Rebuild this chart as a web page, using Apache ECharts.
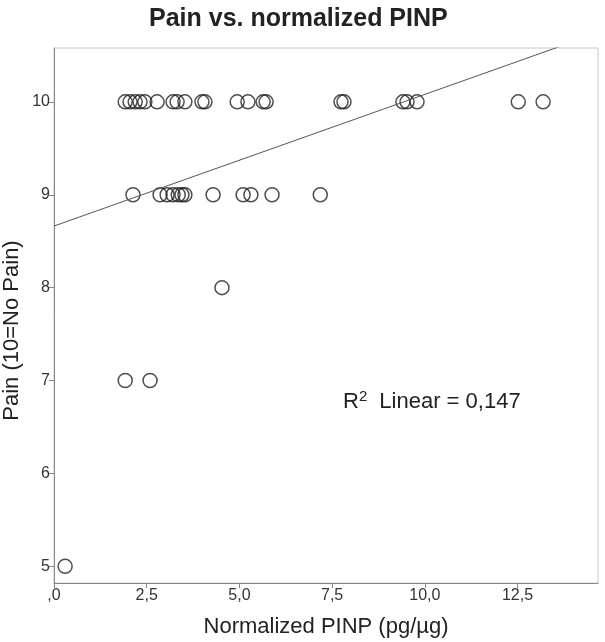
<!DOCTYPE html>
<html>
<head>
<meta charset="utf-8">
<script src="https://cdn.jsdelivr.net/npm/echarts@6/dist/echarts.min.js"></script>
<style>
  html, body { margin: 0; padding: 0; background: #fff; }
  #main { width: 605px; height: 642px; }
</style>
</head>
<body>
<div id="main"></div>
<script>
// normalized PINP (pg/µg) and the pain score of each patient
var pinpValues = [
  1.92, 2.05, 2.19, 2.32, 2.45, 2.78, 3.21, 3.32, 3.53, 3.99, 4.07,
  4.94, 5.23, 5.64, 5.72, 7.74, 7.82, 9.41, 9.52, 9.79, 12.52, 13.19,
  2.13, 2.86, 3.05, 3.21, 3.35, 3.45, 3.53, 4.29, 5.10, 5.31, 5.88, 7.18,
  4.53,
  1.92, 2.59,
  0.30
];
var painValues = [
  10, 10, 10, 10, 10, 10, 10, 10, 10, 10, 10,
  10, 10, 10, 10, 10, 10, 10, 10, 10, 10, 10,
  9, 9, 9, 9, 9, 9, 9, 9, 9, 9, 9, 9,
  8,
  7, 7,
  5
];

var xTicks = [0, 2.5, 5, 7.5, 10, 12.5];
var xTickLabels = [',0', '2,5', '5,0', '7,5', '10,0', '12,5'];
var yTicks = [5, 6, 7, 8, 9, 10];
var yTickLabels = ['5', '6', '7', '8', '9', '10'];
var rSquaredLabel = '0,147';

var xMin = 0, xMax = 14.67;
var yMin = 4.82, yMax = 10.58;

// least squares fit for the reference line
function linearFit(xs, ys) {
  var n = xs.length, sx = 0, sy = 0, sxx = 0, sxy = 0;
  for (var i = 0; i < n; i++) {
    sx += xs[i]; sy += ys[i];
    sxx += xs[i] * xs[i]; sxy += xs[i] * ys[i];
  }
  var b = (n * sxy - sx * sy) / (n * sxx - sx * sx);
  var a = (sy - b * sx) / n;
  return { a: a, b: b };
}

var fit = linearFit(pinpValues, painValues);
var points = pinpValues.map(function (x, i) { return [x, painValues[i]]; });
var fitLine = [[xMin, fit.a + fit.b * xMin], [xMax, fit.a + fit.b * xMax]];

var FONT = 'Liberation Sans, Arial, sans-serif';
var labelFont = { fontFamily: FONT, fontSize: 16, color: '#333' };

var chart = echarts.init(document.getElementById('main'), null, { renderer: 'canvas' });
chart.setOption({
  backgroundColor: '#fff',
  animation: false,
  title: {
    text: 'Pain vs. normalized PINP',
    left: 144,
    top: 2,
    textStyle: { fontFamily: FONT, fontSize: 25, fontWeight: 'bold', color: '#222' }
  },
  grid: {
    left: 54,
    right: 7,
    top: 48,
    bottom: 59,
    outerBoundsMode: 'none',
    containLabel: false,
    show: true,
    borderColor: '#c8c8c8',
    borderWidth: 1
  },
  xAxis: {
    type: 'value',
    min: xMin,
    max: xMax,
    name: 'Normalized PINP (pg/µg)',
    nameLocation: 'middle',
    nameGap: 33,
    nameTextStyle: { fontFamily: FONT, fontSize: 22, color: '#222' },
    splitLine: { show: false },
    axisLine: { show: true, lineStyle: { color: '#888', width: 1 } },
    axisTick: { show: true, length: 5, customValues: xTicks, lineStyle: { color: '#888' } },
    axisLabel: Object.assign({
      margin: 5,
      customValues: xTicks,
      formatter: function (v) {
        var i = xTicks.indexOf(v);
        return i >= 0 ? xTickLabels[i] : '';
      }
    }, labelFont)
  },
  yAxis: {
    type: 'value',
    min: yMin,
    max: yMax,
    name: 'Pain (10=No Pain)',
    nameLocation: 'middle',
    nameGap: 31,
    nameMoveOverlap: false,
    nameRotate: 90,
    nameTextStyle: { fontFamily: FONT, fontSize: 22, color: '#222', padding: [0, 30, 0, 0] },
    splitLine: { show: false },
    axisLine: { show: true, lineStyle: { color: '#888', width: 1 } },
    axisTick: { show: true, length: 5, customValues: yTicks, lineStyle: { color: '#888' } },
    axisLabel: Object.assign({
      margin: 4,
      customValues: yTicks,
      formatter: function (v) {
        var i = yTicks.indexOf(v);
        return i >= 0 ? yTickLabels[i] : '';
      }
    }, labelFont)
  },
  series: [
    {
      type: 'line',
      data: fitLine,
      symbol: 'none',
      clip: true,
      lineStyle: { color: '#555', width: 1 },
      silent: true
    },
    {
      type: 'scatter',
      data: points,
      symbol: 'circle',
      symbolSize: 14,
      itemStyle: {
        color: 'transparent',
        borderColor: '#222',
        borderWidth: 1.5
      }
    }
  ],
  graphic: [
    {
      type: 'text',
      left: 343,
      top: 389,
      style: {
        text: 'R{s|2} Linear = ' + rSquaredLabel,
        fontFamily: FONT,
        fontSize: 22,
        fill: '#222',
        rich: {
          s: { fontSize: 15, verticalAlign: 'top', padding: [0, 6, 10, 0] }
        }
      }
    }
  ]
});
</script>
</body>
</html>
